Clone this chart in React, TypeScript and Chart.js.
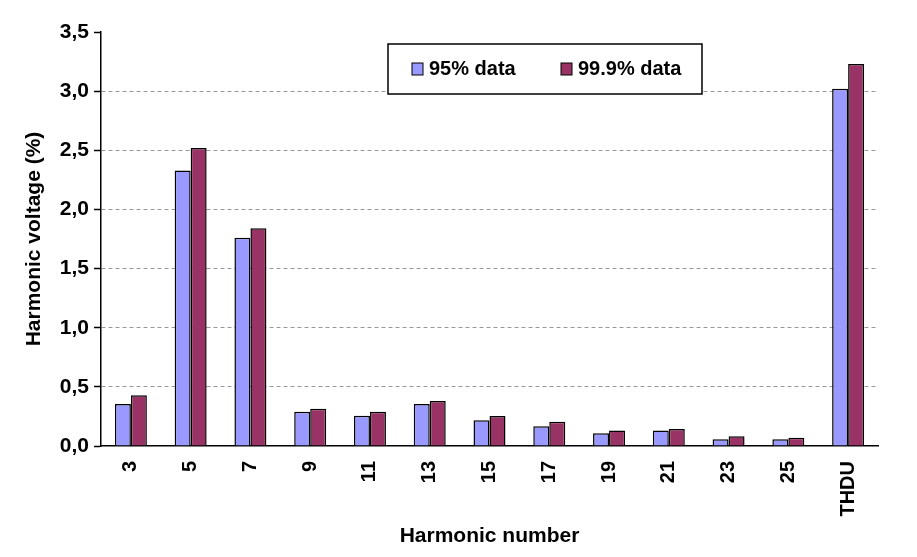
import React, { useEffect, useRef } from "react";
import { Chart, registerables } from "chart.js";

Chart.register(...registerables);

const categories = ["3", "5", "7", "9", "11", "13", "15", "17", "19", "21", "23", "25", "THDU"];
const data95 = [0.355, 2.33, 1.76, 0.29, 0.255, 0.355, 0.217, 0.166, 0.107, 0.13, 0.057, 0.057, 3.02];
const data999 = [0.43, 2.52, 1.84, 0.315, 0.29, 0.38, 0.254, 0.205, 0.13, 0.144, 0.082, 0.07, 3.23];
const seriesNames = ["95% data", "99.9% data"];
const seriesColors = ["#9999FF", "#993366"];
const yTitle = "Harmonic voltage (%)";
const xTitle = "Harmonic number";

const FONT = "Arial, 'Liberation Sans', sans-serif";

const boxLegend = {
  id: "boxLegend",
  afterDraw(chart: any) {
    const ctx = chart.ctx;
    const area = chart.chartArea;
    const bx = area.left + 287;
    const by = area.top + 12;
    const bw = 314;
    const bh = 50;
    ctx.save();
    ctx.fillStyle = "#ffffff";
    ctx.fillRect(bx, by, bw, bh);
    ctx.strokeStyle = "#000000";
    ctx.lineWidth = 1.5;
    ctx.strokeRect(bx, by, bw, bh);
    const offsets = [24, 173];
    chart.data.datasets.forEach((ds: any, i: number) => {
      const sx = bx + offsets[i];
      const sy = by + 19;
      ctx.fillStyle = ds.backgroundColor;
      ctx.fillRect(sx, sy, 11, 12);
      ctx.strokeStyle = "#000";
      ctx.lineWidth = 1;
      ctx.strokeRect(sx, sy, 11, 12);
      ctx.fillStyle = "#000";
      ctx.font = `bold 20px ${FONT}`;
      ctx.textBaseline = "middle";
      ctx.textAlign = "left";
      ctx.fillText(ds.label, sx + 17, sy + 6);
    });
    ctx.restore();
  },
};

export default function App() {
  const ref = useRef<HTMLCanvasElement | null>(null);
  useEffect(() => {
    if (!ref.current) return;
    const chart = new Chart(ref.current, {
      type: "bar",
      data: {
        labels: categories,
        datasets: [
          {
            label: seriesNames[0],
            data: data95,
            backgroundColor: seriesColors[0],
            borderColor: "#000",
            borderWidth: 1.5,
            categoryPercentage: 0.535,
            barPercentage: 1.0,
          },
          {
            label: seriesNames[1],
            data: data999,
            backgroundColor: seriesColors[1],
            borderColor: "#000",
            borderWidth: 1.5,
            categoryPercentage: 0.535,
            barPercentage: 1.0,
          },
        ],
      },
      options: {
        animation: false,
        responsive: true,
        maintainAspectRatio: false,
        layout: { padding: { left: 0, right: 39, top: 32, bottom: 0 } },
        plugins: {
          legend: { display: false },
          tooltip: { enabled: false },
        },
        scales: {
          x: {
            grid: { display: false, drawTicks: false },
            border: { display: true, color: "#000", width: 1.5 },
            ticks: {
              color: "#000",
              font: { family: FONT, size: 20, weight: "bold" },
              maxRotation: 90,
              minRotation: 90,
              padding: 15,
              autoSkip: false,
            },
            title: {
              display: true,
              text: xTitle,
              color: "#000",
              font: { family: FONT, size: 21, weight: "bold" },
              padding: { top: 0, bottom: 8 },
            },
            afterFit(scale: any) {
              scale.height = 111;
            },
          },
          y: {
            min: 0,
            max: 3.5,
            ticks: {
              stepSize: 0.5,
              color: "#000",
              font: { family: FONT, size: 21, weight: "bold" },
              padding: 5,
              callback: (v: any) => Number(v).toFixed(1).replace(".", ","),
            },
            grid: {
              color: (c: any) =>
                c.tick && (c.tick.value === 0 || c.tick.value === 3.5) ? "rgba(0,0,0,0)" : "#999999",
              lineWidth: 1,
              drawTicks: true,
              tickLength: 7,
              tickColor: "#000",
              tickBorderDash: [],
              tickWidth: 1.5,
            },
            border: { display: true, color: "#000", width: 1.5, dash: [4, 3] },
            title: {
              display: true,
              text: yTitle,
              color: "#000",
              font: { family: FONT, size: 21, weight: "bold" },
              padding: { top: 22, bottom: 0 },
            },
            afterFit(scale: any) {
              scale.width = 101;
            },
          },
        },
      },
      plugins: [boxLegend],
    });
    return () => chart.destroy();
  }, []);
  return (
    <div style={{ position: "fixed", left: 0, top: 0, width: 917, height: 557, background: "#fff" }}>
      <canvas ref={ref} />
    </div>
  );
}
